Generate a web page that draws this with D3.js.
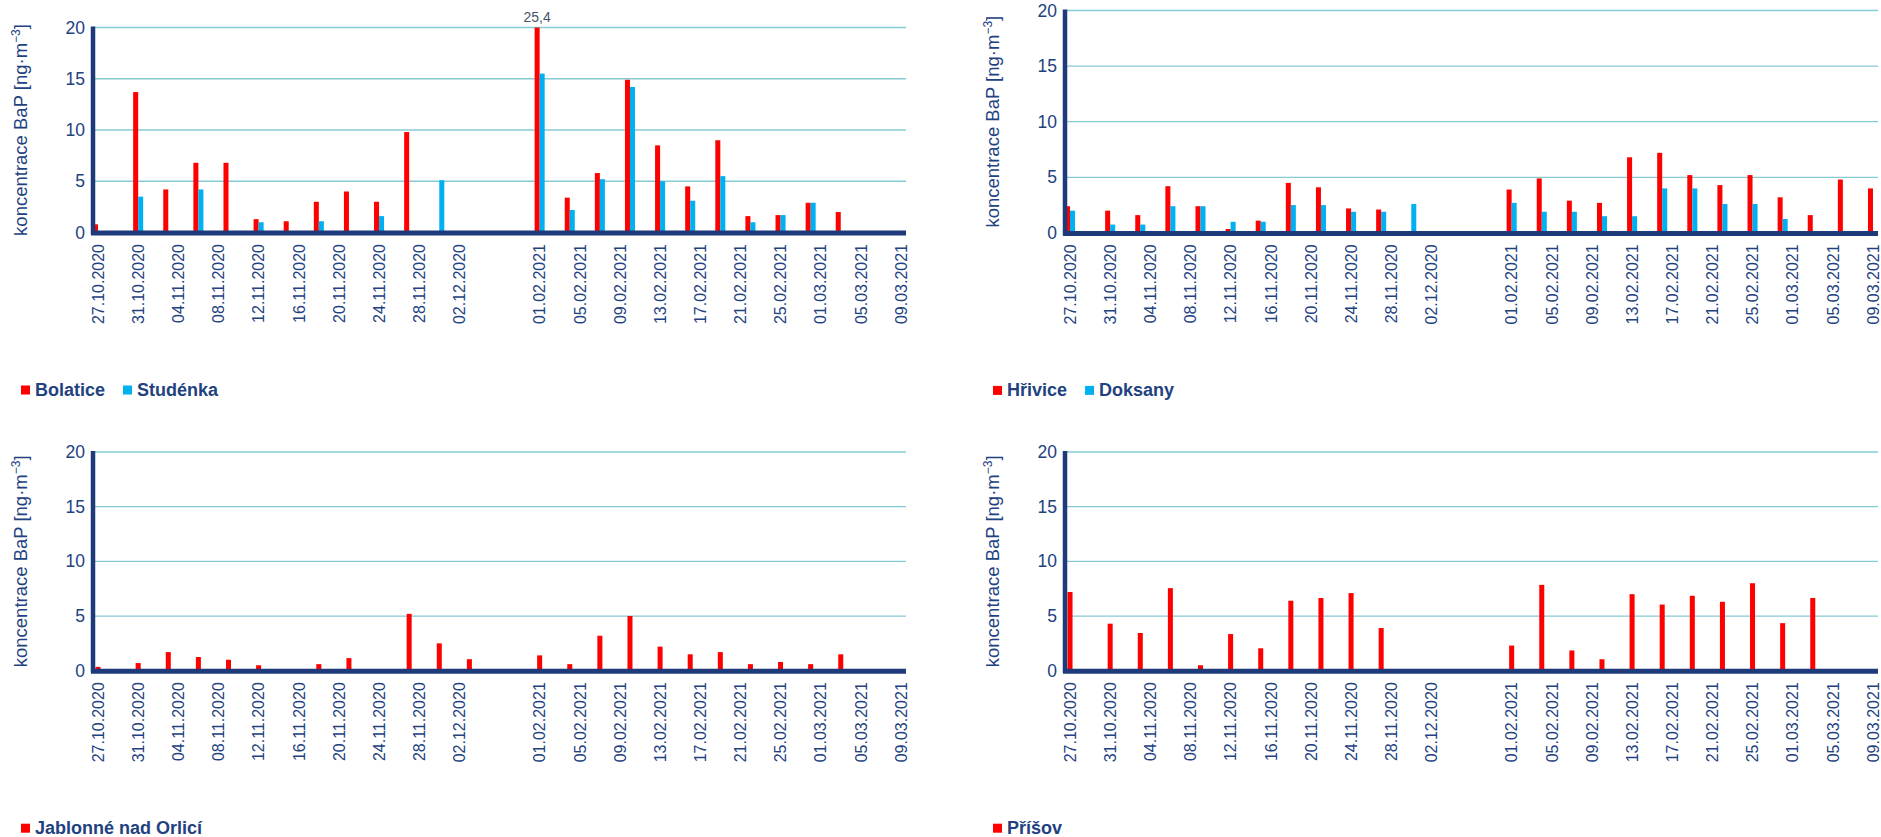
<!DOCTYPE html>
<html>
<head>
<meta charset="utf-8">
<script src="https://cdn.jsdelivr.net/npm/d3@7"></script>
<style>
  body { margin: 0; background: #ffffff; }
  text { font-family: "Liberation Sans", Arial, sans-serif; }
</style>
</head>
<body>
<svg id="chart" width="1881" height="837"></svg>
<script>
// Sampling days (one sample every third day, winter break between the two campaigns)
const sampleDates = [
  "27.10.2020","31.10.2020","03.11.2020","06.11.2020","09.11.2020","12.11.2020","15.11.2020",
  "18.11.2020","21.11.2020","24.11.2020","27.11.2020","30.11.2020","03.12.2020",
  "01.02.2021","04.02.2021","07.02.2021","10.02.2021","13.02.2021","16.02.2021","19.02.2021",
  "22.02.2021","25.02.2021","28.02.2021","03.03.2021","06.03.2021","09.03.2021"
];

// BaP concentrations [ng·m-3]; null = no sample
const bolatice = [0.8, 13.7, 4.2, 6.8, 6.8, 1.3, 1.1, 3.0, 4.0, 3.0, 9.8, null, null,
                  25.4, 3.4, 5.8, 14.9, 8.5, 4.5, 9.0, 1.6, 1.7, 2.9, 2.0, null, null];
const studenka = [null, 3.5, null, 4.2, null, 1.0, null, 1.1, null, 1.6, null, 5.1, null,
                  15.5, 2.2, 5.2, 14.2, 5.0, 3.1, 5.5, 1.0, 1.7, 2.9, null, null, null];
const hrivice  = [2.4, 2.0, 1.6, 4.2, 2.4, 0.35, 1.1, 4.5, 4.1, 2.2, 2.1, null, null,
                  3.9, 4.9, 2.9, 2.7, 6.8, 7.2, 5.2, 4.3, 5.2, 3.2, 1.6, 4.8, 4.0];
const doksany  = [2.0, 0.75, 0.75, 2.4, 2.4, 1.0, 1.0, 2.5, 2.5, 1.9, 1.9, 2.6, null,
                  2.7, 1.9, 1.9, 1.5, 1.5, 4.0, 4.0, 2.6, 2.6, 1.25, null, null, null];
const jablonne = [0.35, 0.7, 1.7, 1.25, 1.0, 0.5, null, 0.6, 1.15, null, 5.2, 2.5, 1.05,
                  1.4, 0.6, 3.2, 5.0, 2.2, 1.5, 1.7, 0.6, 0.8, 0.6, 1.5, null, null];
const prisov   = [7.2, 4.3, 3.45, 7.55, 0.5, 3.35, 2.05, 6.4, 6.65, 7.1, 3.9, null, null,
                  2.3, 7.85, 1.85, 1.05, 7.0, 6.05, 6.85, 6.3, 8.0, 4.35, 6.65, null, null];

// Axis labels
const tickLabels = [
  "27.10.2020","31.10.2020","04.11.2020","08.11.2020","12.11.2020","16.11.2020","20.11.2020",
  "24.11.2020","28.11.2020","02.12.2020",
  "01.02.2021","05.02.2021","09.02.2021","13.02.2021","17.02.2021","21.02.2021","25.02.2021",
  "01.03.2021","05.03.2021","09.03.2021"
];
const yTicks = [0, 5, 10, 15, 20];
const yMax = 20;
const yTitle = "koncentrace BaP [ng·m";
const yTitleSup = "−3";

// Day-by-day category axis: autumn campaign and late-winter campaign
const fmt = d3.timeFormat("%d.%m.%Y");
const days = [
  ...d3.timeDay.range(new Date(2020, 9, 27), new Date(2020, 11, 6)),
  ...d3.timeDay.range(new Date(2021, 0, 28), new Date(2021, 2, 10))
].map(fmt);

const RED = "#ff0000", BLUE = "#00b0f0";
const NAVY = "#1f3a7a", TEXT = "#22417f", GRID = "#86cad4";

const panels = [
  { x0: 93,   x1: 906,  yTop: 27.5, yBase: 232.5,
    series: [{ name: "Bolatice", values: bolatice, color: RED },
             { name: "Studénka", values: studenka, color: BLUE }] },
  { x0: 1065, x1: 1878, yTop: 10.5, yBase: 232.9,
    series: [{ name: "Hřivice", values: hrivice, color: RED },
             { name: "Doksany", values: doksany, color: BLUE }] },
  { x0: 93,   x1: 906,  yTop: 452,  yBase: 670.7,
    series: [{ name: "Jablonné nad Orlicí", values: jablonne, color: RED }] },
  { x0: 1065, x1: 1878, yTop: 452,  yBase: 670.7,
    series: [{ name: "Příšov", values: prisov, color: RED }] }
];

const svg = d3.select("#chart");
const commaFmt = v => String(v).replace(".", ",");

panels.forEach((p, pi) => {
  const g = svg.append("g");
  const x = d3.scaleBand().domain(days).range([p.x0, p.x1]).padding(0);
  const y = d3.scaleLinear().domain([0, yMax]).range([p.yBase, p.yTop]);
  const names = p.series.map(s => s.name);
  const bw = x.bandwidth();
  const inner = d3.scaleBand().domain(names)
    .range(names.length === 1 ? [bw * 0.25, bw * 0.75] : [0, bw]);

  // horizontal gridlines
  g.append("g").selectAll("line")
    .data(yTicks.filter(t => t > 0))
    .join("line")
    .attr("x1", p.x0).attr("x2", p.x1)
    .attr("y1", d => y(d)).attr("y2", d => y(d))
    .attr("stroke", GRID).attr("stroke-width", 1.3);

  // bars, clipped to the value range of the axis
  const clipId = "clip" + pi;
  g.append("clipPath").attr("id", clipId)
    .append("rect").attr("x", p.x0).attr("y", p.yTop)
    .attr("width", p.x1 - p.x0).attr("height", p.yBase - p.yTop);

  const barLayer = g.append("g").attr("clip-path", `url(#${clipId})`);
  p.series.forEach(s => {
    const pts = sampleDates.map((d, i) => ({ date: d, v: s.values[i] }))
      .filter(d => d.v != null);
    barLayer.append("g").selectAll("rect")
      .data(pts)
      .join("rect")
      .attr("x", d => x(d.date) + inner(s.name))
      .attr("width", inner.bandwidth())
      .attr("y", d => y(d.v))
      .attr("height", d => y(0) - y(d.v))
      .attr("fill", s.color);

    // value labels for bars that run past the top of the axis
    g.append("g").selectAll("text")
      .data(pts.filter(d => d.v > yMax))
      .join("text")
      .attr("x", d => x(d.date) + inner(s.name) + inner.bandwidth() / 2)
      .attr("y", p.yTop - 5.5)
      .attr("text-anchor", "middle")
      .attr("font-size", 14)
      .attr("fill", "#44546a")
      .text(d => commaFmt(d.v));
  });

  // y axis
  const yAxis = g.append("g")
    .attr("transform", `translate(${p.x0},0)`)
    .call(d3.axisLeft(y).tickValues(yTicks).tickSize(0).tickSizeOuter(0).tickPadding(8));
  yAxis.select(".domain").attr("stroke", NAVY).attr("stroke-width", 4.5)
    .attr("d", `M0,${p.yTop - 1}V${p.yBase + 2}`);
  yAxis.selectAll("text").attr("font-size", 17.5).attr("fill", TEXT)
    .attr("font-family", "Liberation Sans, Arial, sans-serif");

  // x axis
  const xAxis = g.append("g")
    .attr("transform", `translate(0,${p.yBase + 0.5})`)
    .call(d3.axisBottom(x).tickValues(tickLabels).tickSize(0).tickSizeOuter(0));
  xAxis.select(".domain").attr("stroke", NAVY).attr("stroke-width", 5)
    .attr("d", `M${p.x0 - 2},0H${p.x1}`);
  xAxis.selectAll("text")
    .attr("transform", "rotate(-90)")
    .attr("x", -11).attr("y", 0).attr("dy", "0.36em")
    .style("text-anchor", "end")
    .attr("font-size", 16).attr("fill", TEXT)
    .attr("font-family", "Liberation Sans, Arial, sans-serif");

  // y axis title
  const tx = p.x0 - 72, ty = (p.yTop + p.yBase) / 2;
  const title = g.append("text")
    .attr("transform", `translate(${tx},${ty}) rotate(-90)`)
    .attr("text-anchor", "middle").attr("dy", "0.35em")
    .attr("font-size", 18.5).attr("fill", TEXT);
  title.append("tspan").text(yTitle);
  title.append("tspan").attr("baseline-shift", "super").attr("font-size", 12).text(yTitleSup);
  title.append("tspan").text("]");

  // legend
  const legY = p.yBase + 163.5;
  let lx = p.x0 - 72;
  const leg = g.append("g");
  p.series.forEach(s => {
    leg.append("rect").attr("x", lx).attr("y", legY - 10.5).attr("width", 9).attr("height", 9)
      .attr("fill", s.color);
    const t = leg.append("text").attr("x", lx + 14).attr("y", legY)
      .attr("font-size", 18).attr("font-weight", "bold").attr("fill", TEXT)
      .text(s.name);
    lx += 14 + t.node().getComputedTextLength() + 18;
  });
});
</script>
</body>
</html>
